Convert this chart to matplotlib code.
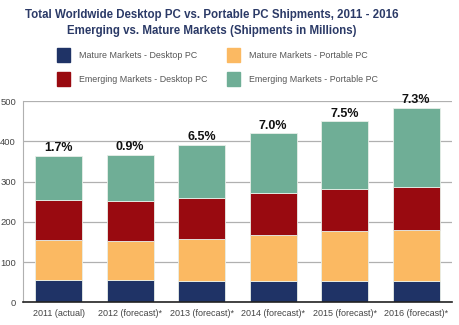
import matplotlib
matplotlib.use("Agg")
import matplotlib.pyplot as plt
import numpy as np
from matplotlib.patches import Rectangle

plt.rcParams['font.family'] = ['Liberation Sans', 'DejaVu Sans']

years = ["2011 (actual)", "2012 (forecast)*", "2013 (forecast)*",
         "2014 (forecast)*", "2015 (forecast)*", "2016 (forecast)*"]
mature_desktop = [55, 55, 54, 54, 54, 53]
mature_portable = [100, 98, 104, 114, 122, 126]
emerging_desktop = [99, 98, 102, 104, 106, 108]
emerging_portable = [110, 116, 132, 148, 168, 197]
growth = ["1.7%", "0.9%", "6.5%", "7.0%", "7.5%", "7.3%"]

series = [
    ("Mature Markets - Desktop PC", mature_desktop, "#1f3366"),
    ("Mature Markets - Portable PC", mature_portable, "#fbb962"),
    ("Emerging Markets - Desktop PC", emerging_desktop, "#990a10"),
    ("Emerging Markets - Portable PC", emerging_portable, "#6fae96"),
]

fig = plt.figure(figsize=(4.6, 3.25), dpi=100)
ax = fig.add_axes([0.05, 0.0698, 0.9326, 0.6192])

x = np.arange(len(years))
bottom = np.zeros(len(years))
for name, vals, col in series:
    ax.bar(x, vals, bottom=bottom, width=0.66, color=col, edgecolor="#e8efe8",
           linewidth=0.6, zorder=3)
    bottom += np.array(vals)

for xi, tot, g in zip(x, bottom, growth):
    ax.text(xi, tot + 4, g, ha="center", va="bottom", fontsize=9,
            fontweight="bold", color="#111111", zorder=4)

ax.set_xlim(-0.5, len(years) - 0.5)
ax.set_ylim(0, 500)
ax.set_yticks([0, 100, 200, 300, 400, 500])
ax.yaxis.grid(True, color="#b0b0b0", linewidth=0.9, zorder=0)
ax.set_axisbelow(True)
for s in ["top", "right"]:
    ax.spines[s].set_visible(False)
ax.spines["left"].set_color("#b0b0b0")
ax.spines["bottom"].set_color("#222222")
ax.spines["bottom"].set_linewidth(1.2)
ax.spines["bottom"].set_zorder(5)
ax.tick_params(axis="y", length=0, labelsize=6.8, labelcolor="#444444", pad=5)
ax.tick_params(axis="x", length=0, labelsize=6.5, labelcolor="#444444", pad=5)
ax.set_xticks(x)
ax.set_xticklabels(years)

fig.text(0.46, 0.955, "Total Worldwide Desktop PC vs. Portable PC Shipments, 2011 - 2016",
         ha="center", va="center", fontsize=8.3, fontweight="bold", color="#2b3a67")
fig.text(0.46, 0.905, "Emerging vs. Mature Markets (Shipments in Millions)",
         ha="center", va="center", fontsize=8.3, fontweight="bold", color="#2b3a67")

# legend
pos = [(57, 55), (227, 55), (57, 79), (227, 79)]
for (px, py), (name, _, col) in zip(pos, series):
    fig.patches.append(Rectangle((px / 460, 1 - (py + 6.5) / 325), 13 / 460, 13 / 325,
                                 transform=fig.transFigure, color=col, figure=fig))
    fig.text((px + 22) / 460, 1 - py / 325, name, ha="left", va="center",
             fontsize=6.4, color="#555555")

fig.savefig("out.png", dpi=100)
